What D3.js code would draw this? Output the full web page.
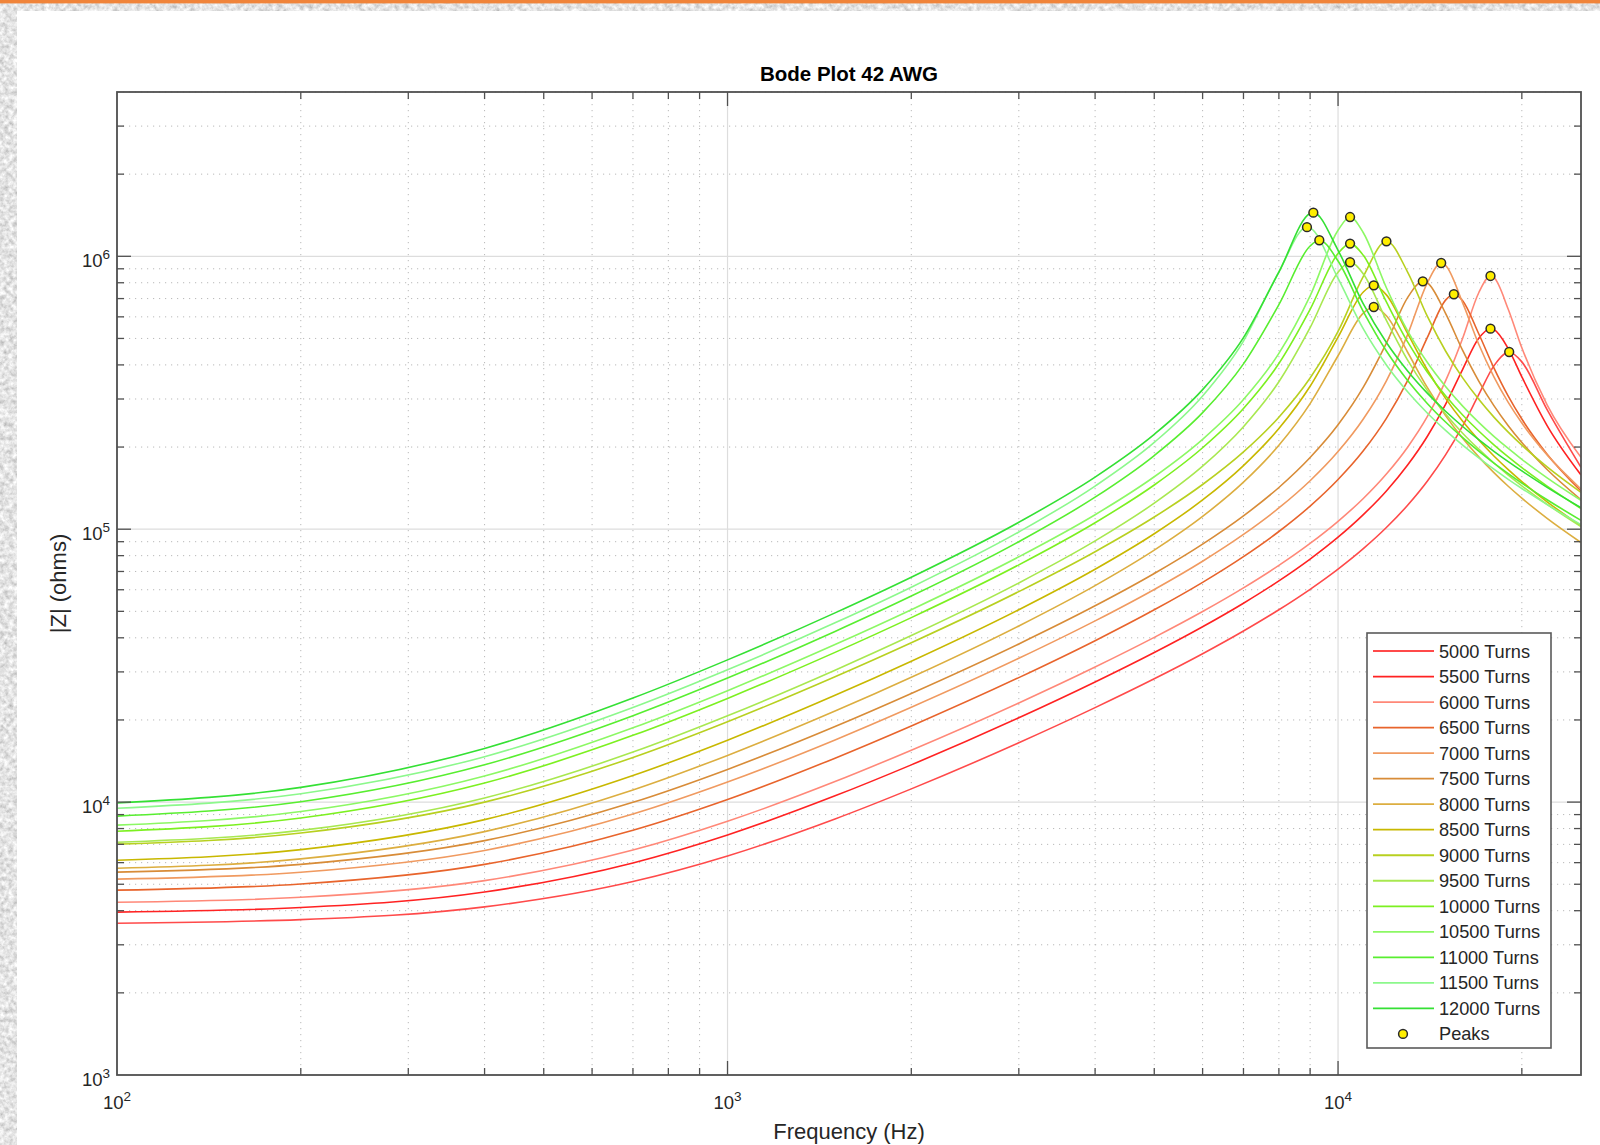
<!DOCTYPE html>
<html>
<head>
<meta charset="utf-8">
<script src="https://cdn.jsdelivr.net/npm/d3@7"></script>
<style>
html, body { margin: 0; padding: 0; background: #ffffff; }
svg { display: block; }
text { font-family: "Liberation Sans", Arial, Helvetica, sans-serif; }
</style>
</head>
<body>
<svg id="chart" width="1600" height="1145"></svg>
<script>
// ---------------- DATA ----------------
const turns = [5000, 5500, 6000, 6500, 7000, 7500, 8000, 8500, 9000, 9500, 10000, 10500, 11000, 11500, 12000];
const seriesColors = ["#ff4a4a", "#ff2222", "#ff8878", "#e8642c", "#f09a60", "#d88c38", "#dcae40", "#c8b800",
                      "#b8d020", "#a8e850", "#7cf020", "#8cf864", "#58ee30", "#8cf88c", "#34e034"];

// frequency grid (Hz)
const freqHz = [100, 200, 400, 700, 1000, 1500, 2000, 3000, 4000, 5000, 6000, 7000, 8000, 9000, 10000,
                11000, 12000, 13000, 14000, 15000, 16000, 17000, 18000, 19000, 20000, 22000, 25000];

// |Z| in ohms, one array per coil
const z5000  = [3600, 3710, 4130, 5115, 6347, 8674, 11180, 16500, 22190, 28300, 34960, 42350, 50670, 60230, 71430, 84870, 101400, 122400, 149900, 187200, 239100, 311100, 396600, 446000, 410400, 274200, 168600];
const z5500  = [3953, 4110, 4683, 5986, 7580, 10540, 13690, 20360, 27540, 35320, 43910, 53560, 64670, 77720, 93480, 113100, 138100, 171900, 218700, 286700, 385400, 500700, 538800, 458900, 361600, 239800, 158100];
const z6000  = [4293, 4478, 5154, 6671, 8508, 11890, 15500, 23090, 31260, 40140, 49930, 60960, 73670, 88690, 106900, 129600, 159300, 199800, 258400, 349400, 501100, 735300, 836300, 639900, 462000, 285700, 183300];
const z6500  = [4757, 5010, 5912, 7885, 10220, 14490, 19010, 28590, 39040, 50660, 63880, 79370, 98080, 121500, 152100, 193800, 254900, 350000, 503200, 690900, 687200, 520100, 390000, 307200, 253300, 188400, 138000];
const z7000  = [5219, 5534, 6650, 9040, 11840, 16900, 22260, 33640, 46130, 60150, 76330, 95670, 119600, 150500, 192500, 253400, 349800, 516600, 798200, 926700, 675300, 476000, 361800, 291600, 245000, 187200, 140400];
const z7500  = [5540, 5914, 7223, 9982, 13180, 18930, 25020, 37990, 52390, 68800, 88170, 111900, 142200, 183100, 241300, 331400, 480500, 705800, 799600, 618200, 451900, 349000, 283600, 239500, 207800, 165500, 128200];
const z8000  = [5725, 6192, 7797, 11080, 14830, 21550, 28670, 44220, 62150, 83830, 111400, 148700, 203000, 288600, 432200, 619200, 605900, 445100, 330700, 260800, 215400, 184100, 161200, 143700, 130000, 109600, 89400];
const z8500  = [6124, 6697, 8627, 12510, 16860, 24620, 32830, 50710, 71340, 96260, 128000, 171100, 233800, 334100, 505700, 740000, 722300, 521700, 384000, 301500, 248500, 212100, 185500, 165400, 149500, 126000, 102800];
const z9000  = [7014, 7701, 9996, 14570, 19700, 28800, 38370, 59070, 82710, 110800, 145800, 191900, 257300, 358100, 530300, 843400, 1134000, 875600, 603200, 449800, 358400, 299100, 257500, 226800, 203200, 169200, 136400];
const z9500  = [7128, 7876, 10360, 15250, 20720, 30440, 40760, 63550, 90590, 124600, 170200, 237500, 346900, 547600, 874800, 861900, 582500, 416300, 322600, 264400, 224800, 196400, 174800, 157900, 144200, 123400, 102200];
const z10000 = [7822, 8744, 11750, 17560, 23990, 35370, 47430, 74030, 105600, 145200, 198800, 276800, 404800, 639200, 1024000, 1008000, 680300, 485700, 376300, 308300, 262200, 229000, 203800, 184000, 168100, 143900, 119100];
const z10500 = [8232, 9232, 12470, 18720, 25610, 37800, 50720, 79210, 113000, 155700, 213500, 298600, 440700, 716100, 1246000, 1220000, 767100, 533200, 408800, 333200, 282500, 246300, 218900, 197600, 180400, 154300, 127600];
const z11000 = [8885, 10030, 13700, 20720, 28470, 42200, 56870, 90010, 131000, 186200, 267400, 403400, 664800, 1091000, 961300, 627300, 449700, 350800, 289000, 247000, 216400, 193100, 174700, 159900, 147500, 128200, 107700];
const z11500 = [9497, 10730, 14670, 22230, 30560, 45380, 61300, 97670, 143900, 208000, 307800, 489200, 877300, 1270000, 829400, 541600, 399900, 318800, 266600, 230300, 203300, 182500, 165900, 152300, 141000, 123100, 103900];
const z12000 = [9921, 11320, 15730, 24060, 33200, 49370, 66690, 106000, 155200, 222600, 324600, 503400, 875100, 1434000, 1052000, 668900, 483300, 380300, 315300, 270600, 237900, 212800, 193000, 176900, 163500, 142400, 119900];

// resonance peaks (yellow markers), same order as turns
const peakFreq = [19069, 17770, 17770, 15477, 14755, 13766, 11442, 11442, 12002, 10464, 10464, 10464, 9318, 8894, 9110];
const peakZ    = [446000, 543000, 847000, 726000, 945000, 810000, 652000, 783000, 1135000, 951000, 1113000, 1393000, 1145000, 1279000, 1445000];

const xMajorTicks = [100, 1000, 10000];
const yMajorTicks = [1e3, 1e4, 1e5, 1e6];

const titleText = "Bode Plot 42 AWG";
const xLabelText = "Frequency (Hz)";
const yLabelText = "|Z| (ohms)";

const impedanceSeries = [z5000, z5500, z6000, z6500, z7000, z7500, z8000, z8500, z9000, z9500, z10000, z10500, z11000, z11500, z12000];

// ---------------- LAYOUT ----------------
const W = 1600, H = 1145;
const plot = { left: 117, top: 92, right: 1581, bottom: 1075 };
const svg = d3.select("#chart");

const x = d3.scaleLog().domain([100, 25000]).range([plot.left, plot.right]);
const y = d3.scaleLog().domain([1000, 4e6]).range([plot.bottom, plot.top]);

// ---------------- BACKGROUND ----------------
const defs = svg.append("defs");
const flt = defs.append("filter").attr("id", "paper")
  .attr("x", 0).attr("y", 0).attr("width", 1).attr("height", 1);
flt.append("feTurbulence").attr("type", "fractalNoise").attr("baseFrequency", "0.22").attr("numOctaves", 3).attr("seed", 7).attr("result", "n");
flt.append("feColorMatrix").attr("in", "n").attr("type", "matrix").attr("result", "g")
  .attr("values", "0.75 0 0 0 0.40  0.75 0 0 0 0.40  0.75 0 0 0 0.40  0 0 0 0 1");
flt.append("feComposite").attr("in", "g").attr("in2", "SourceGraphic").attr("operator", "in");
defs.append("clipPath").attr("id", "plotClip").append("rect")
  .attr("x", plot.left).attr("y", plot.top).attr("width", plot.right - plot.left).attr("height", plot.bottom - plot.top);

svg.append("rect").attr("x", 0).attr("y", 0).attr("width", W).attr("height", H).attr("fill", "#ffffff");
svg.append("rect").attr("x", 0).attr("y", 0).attr("width", 17).attr("height", H).attr("fill", "#cccccc").attr("filter", "url(#paper)");
svg.append("rect").attr("x", 0).attr("y", 0).attr("width", W).attr("height", 11).attr("fill", "#cccccc").attr("filter", "url(#paper)");
svg.append("rect").attr("x", 0).attr("y", 0).attr("width", W).attr("height", 3.4).attr("fill", "#f0843a");

// ---------------- GRID ----------------
const isMajor = v => Math.abs(Math.log10(v) - Math.round(Math.log10(v))) < 1e-9;
const xTicksAll = x.ticks(); // 1..9 per decade
const yTicksAll = y.ticks();

const grid = svg.append("g");
grid.selectAll("line.xminor").data(xTicksAll.filter(v => !isMajor(v))).join("line")
  .attr("x1", d => x(d)).attr("x2", d => x(d)).attr("y1", plot.top).attr("y2", plot.bottom)
  .attr("stroke", "#b9b9b9").attr("stroke-width", 1).attr("stroke-dasharray", "1.2,4.8");
grid.selectAll("line.yminor").data(yTicksAll.filter(v => !isMajor(v))).join("line")
  .attr("y1", d => y(d)).attr("y2", d => y(d)).attr("x1", plot.left).attr("x2", plot.right)
  .attr("stroke", "#b9b9b9").attr("stroke-width", 1).attr("stroke-dasharray", "1.2,4.8");
grid.selectAll("line.xmajor").data(xMajorTicks).join("line")
  .attr("x1", d => x(d)).attr("x2", d => x(d)).attr("y1", plot.top).attr("y2", plot.bottom)
  .attr("stroke", "#dddddd").attr("stroke-width", 1.2);
grid.selectAll("line.ymajor").data(yMajorTicks).join("line")
  .attr("y1", d => y(d)).attr("y2", d => y(d)).attr("x1", plot.left).attr("x2", plot.right)
  .attr("stroke", "#dddddd").attr("stroke-width", 1.2);

// ---------------- CURVES ----------------
const line = d3.line().x(d => x(d.f)).y(d => y(d.z)).curve(d3.curveMonotoneX);
const curves = svg.append("g").attr("clip-path", "url(#plotClip)");
impedanceSeries.forEach((zs, i) => {
  const pts = freqHz.map((f, k) => ({ f, z: zs[k] }))
    .filter(p => Math.abs(p.f - peakFreq[i]) / peakFreq[i] > 0.01);
  pts.push({ f: peakFreq[i], z: peakZ[i] });
  pts.sort((a, b) => a.f - b.f);
  curves.append("path").datum(pts).attr("d", line)
    .attr("fill", "none").attr("stroke", seriesColors[i]).attr("stroke-width", 1.6)
    .attr("stroke-linejoin", "round");
});

// peaks
svg.append("g").selectAll("circle").data(peakFreq.map((f, i) => ({ f, z: peakZ[i] }))).join("circle")
  .attr("cx", d => x(d.f)).attr("cy", d => y(d.z)).attr("r", 4.4)
  .attr("fill", "#ffee00").attr("stroke", "#2a2a2a").attr("stroke-width", 1.5);

// ---------------- AXES (box, inward ticks) ----------------
const axisColor = "#505050";
const ax = svg.append("g");
ax.append("rect").attr("x", plot.left).attr("y", plot.top)
  .attr("width", plot.right - plot.left).attr("height", plot.bottom - plot.top)
  .attr("fill", "none").attr("stroke", axisColor).attr("stroke-width", 1.8);
const tl = v => isMajor(v) ? 14 : 7;
const xt = xTicksAll.filter(v => x(v) > plot.left + 0.5 && x(v) < plot.right - 0.5);
const yt = yTicksAll.filter(v => y(v) < plot.bottom - 0.5 && y(v) > plot.top + 0.5);
ax.selectAll("line.xtb").data(xt).join("line")
  .attr("x1", d => x(d)).attr("x2", d => x(d)).attr("y1", plot.bottom).attr("y2", d => plot.bottom - tl(d))
  .attr("stroke", axisColor).attr("stroke-width", 1.3);
ax.selectAll("line.xtt").data(xt).join("line")
  .attr("x1", d => x(d)).attr("x2", d => x(d)).attr("y1", plot.top).attr("y2", d => plot.top + tl(d))
  .attr("stroke", axisColor).attr("stroke-width", 1.3);
ax.selectAll("line.ytl").data(yt).join("line")
  .attr("y1", d => y(d)).attr("y2", d => y(d)).attr("x1", plot.left).attr("x2", d => plot.left + tl(d))
  .attr("stroke", axisColor).attr("stroke-width", 1.3);
ax.selectAll("line.ytr").data(yt).join("line")
  .attr("y1", d => y(d)).attr("y2", d => y(d)).attr("x1", plot.right).attr("x2", d => plot.right - tl(d))
  .attr("stroke", axisColor).attr("stroke-width", 1.3);

// tick labels with superscript exponents
const labColor = "#262626";
const xl = ax.selectAll("text.xl").data(xMajorTicks).join("text")
  .attr("x", d => x(d)).attr("y", 1109).attr("text-anchor", "middle")
  .attr("font-size", 18.5).attr("fill", labColor);
xl.append("tspan").text("10");
xl.append("tspan").attr("dy", -8.5).attr("font-size", 13.5).text(d => Math.round(Math.log10(d)));

const yl = ax.selectAll("text.yl").data(yMajorTicks).join("text")
  .attr("x", 110).attr("y", d => y(d) + 11).attr("text-anchor", "end")
  .attr("font-size", 18.5).attr("fill", labColor);
yl.append("tspan").text("10");
yl.append("tspan").attr("dy", -8.5).attr("font-size", 13.5).text(d => Math.round(Math.log10(d)));

// titles
svg.append("text").attr("x", (plot.left + plot.right) / 2).attr("y", 81).attr("text-anchor", "middle")
  .attr("font-size", 20.5).attr("font-weight", "bold").attr("fill", "#000").text(titleText);
svg.append("text").attr("x", (plot.left + plot.right) / 2).attr("y", 1139).attr("text-anchor", "middle")
  .attr("font-size", 22).attr("fill", labColor).text(xLabelText);
svg.append("text").attr("transform", `translate(66,${(plot.top + plot.bottom) / 2}) rotate(-90)`)
  .attr("text-anchor", "middle").attr("font-size", 22).attr("fill", labColor).text(yLabelText);

// ---------------- LEGEND ----------------
const lg = svg.append("g");
lg.append("rect").attr("x", 1367).attr("y", 633).attr("width", 184).attr("height", 415)
  .attr("fill", "#ffffff").attr("stroke", "#5a5a5a").attr("stroke-width", 1.6);
const rowY = i => 651 + i * 25.53;
const entries = turns.map((t, i) => ({ label: t + " Turns", color: seriesColors[i], i }));
lg.selectAll("line.le").data(entries).join("line")
  .attr("x1", 1373).attr("x2", 1434).attr("y1", d => rowY(d.i)).attr("y2", d => rowY(d.i))
  .attr("stroke", d => d.color).attr("stroke-width", 1.8);
lg.selectAll("text.le").data(entries).join("text")
  .attr("x", 1439).attr("y", d => rowY(d.i) + 6.5).attr("font-size", 18.2).attr("fill", labColor)
  .text(d => d.label);
lg.append("circle").attr("cx", 1403).attr("cy", rowY(turns.length)).attr("r", 4.4)
  .attr("fill", "#ffee00").attr("stroke", "#2a2a2a").attr("stroke-width", 1.5);
lg.append("text").attr("x", 1439).attr("y", rowY(turns.length) + 6.5).attr("font-size", 18.2)
  .attr("fill", labColor).text("Peaks");
</script>
</body>
</html>
